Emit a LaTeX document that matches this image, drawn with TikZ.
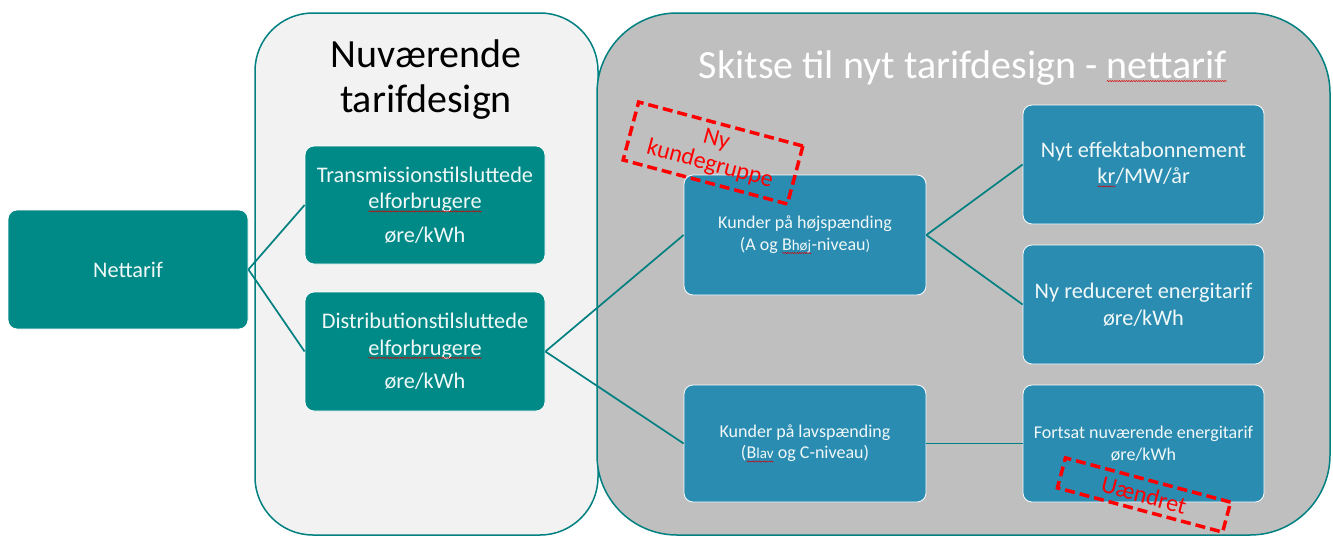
\documentclass[tikz,border=0pt]{standalone}
\usepackage{fontspec}
\setmainfont{Carlito}
\newfontfamily\cf{Carlito}
\usetikzlibrary{decorations.pathmorphing}
\definecolor{tealbox}{RGB}{0,138,135}
\definecolor{bluebox}{RGB}{43,140,178}
\definecolor{tealline}{RGB}{0,128,128}
\definecolor{panelL}{RGB}{242,242,242}
\definecolor{panelR}{RGB}{191,191,191}
\definecolor{boxtext}{RGB}{240,248,248}
\newcommand\sq[1]{\tikz[baseline=(w.base),x=1pt,y=1pt,sharp corners]{\node[draw=none,fill=none,inner sep=0pt,outer sep=0pt,minimum width=0pt,minimum height=0pt,sharp corners,rotate=0](w){#1};\draw[red!85!black,line width=0.45pt,solid,sharp corners,decorate,decoration={snake,amplitude=0.6pt,segment length=2.4pt}] ([yshift=-2.6pt]w.base west) -- ([yshift=-2.6pt]w.base east);}}
\tikzset{
  panel/.style={draw=tealline,line width=1.5pt,rounded corners=#1},
  tbox/.style={draw=white,line width=0.8pt,fill=tealbox,rounded corners=9pt,text=boxtext,align=center,inner sep=2pt,font=\cf\fontsize{22.3}{26.5}\selectfont},
  bbox/.style={draw=white,line width=0.8pt,fill=bluebox,rounded corners=9pt,text=boxtext,align=center,inner sep=2pt,font=\cf\fontsize{22.3}{26.5}\selectfont},
  small/.style={font=\cf\fontsize{18}{21.5}\selectfont},
  conn/.style={draw=tealline,line width=1.7pt},
  redmark/.style={draw=red,line width=3.5pt,dash pattern=on 10pt off 5pt,text=red,align=center,rotate=-15,inner sep=0pt,font=\cf\fontsize{24}{25}\selectfont},
}
\begin{document}
\begin{tikzpicture}[x=1pt,y=-1pt]
\useasboundingbox (0,0) rectangle (1333,536);
\fill[white] (0,0) rectangle (1333,536);
% panels
\draw[panel=58pt,fill=panelL] (255,13) rectangle (598,535);
\draw[panel=80pt,fill=panelR] (597,13) rectangle (1330,535);
% titles
\node[align=center,font=\cf\fontsize{40}{45}\selectfont] (tl) at (426,80) {Nuværende\\tarifdesign};
\node[text=white,font=\cf\fontsize{40}{45}\selectfont] (tr) at (963,68) {Skitse til nyt tarifdesign - \sq{nettarif}};
% boxes
\node[tbox,minimum width=240pt,minimum height=119pt] (net) at (128,269.5) {Nettarif};
\node[tbox,minimum width=240pt,minimum height=118pt] (trans) at (425,205) {Transmissionstilsluttede\\\sq{elforbrugere}\\[7pt]øre/kWh};
\node[tbox,minimum width=240pt,minimum height=119pt] (dist) at (425,351.5) {Distributionstilsluttede\\\sq{elforbrugere}\\[7pt]øre/kWh};
\node[bbox,small,minimum width=242pt,minimum height=120pt] (hoj) at (805,235) {Kunder på højspænding\\(A og \sq{B{\fontsize{15}{16}\selectfont høj}}-niveau{\fontsize{15}{16}\selectfont)}};
\node[bbox,small,minimum width=242pt,minimum height=117pt] (lav) at (805,443.5) {Kunder på lavspænding\\(\sq{B{\fontsize{15}{16}\selectfont lav}} og C-niveau)};
\node[bbox,minimum width=241pt,minimum height=119pt] (eff) at (1143.5,164.5) {Nyt effektabonnement\\\sq{kr}/MW/år};
\node[bbox,minimum width=241pt,minimum height=119pt] (red) at (1143.5,304.5) {Ny reduceret energitarif\\øre/kWh};
\node[bbox,small,minimum width=241pt,minimum height=117pt] (fort) at (1143.5,443.5) {Fortsat nuværende energitarif\\øre/kWh};
% connectors
\draw[conn] (net.east) -- (trans.west);
\draw[conn] (net.east) -- (dist.west);
\draw[conn] (dist.east) -- (hoj.west);
\draw[conn] (dist.east) -- (lav.west);
\draw[conn] (hoj.east) -- (eff.west);
\draw[conn] (hoj.east) -- (red.west);
\draw[conn] (lav.east) -- (fort.west);
% red marks
\node[redmark,minimum width=170pt,minimum height=60pt] (ny) at (713,153) {Ny\\kundegruppe};
\node[redmark,minimum width=171pt,minimum height=31pt] (uae) at (1144,495) {Uændret};
\end{tikzpicture}
\end{document}
